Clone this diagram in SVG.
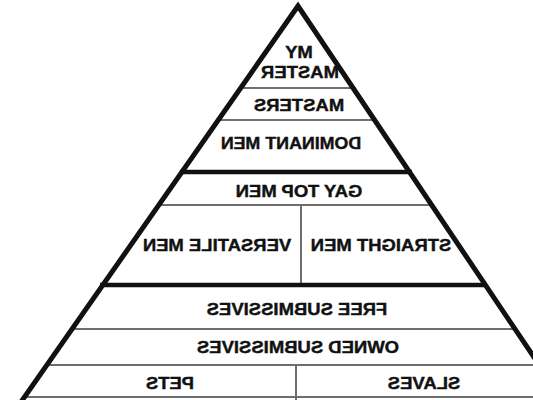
<svg xmlns="http://www.w3.org/2000/svg" width="533" height="400" viewBox="0 0 533 400">
<style>
.t{font-family:"Liberation Sans",Arial,sans-serif;font-weight:bold;font-size:16.5px;fill:#111;stroke:#111;stroke-width:0.4;text-anchor:middle}
.thin{stroke:#6e6e6e;stroke-width:2;fill:none}
.thick{stroke:#111;stroke-width:4.5;fill:none}
.edge{stroke:#111;stroke-width:5;fill:none;stroke-linejoin:miter}
</style>
<rect width="533" height="400" fill="#fff"/>
<g id="dividers">
<line class="thin" x1="238" y1="88" x2="356" y2="88"/>
<line class="thin" x1="216" y1="120" x2="377" y2="120"/>
<line class="thick" x1="180" y1="172" x2="412" y2="172"/>
<line class="thin" x1="157" y1="205" x2="434" y2="205"/>
<line class="thin" x1="301" y1="205" x2="301" y2="285"/>
<line class="thick" x1="100" y1="285" x2="487" y2="285"/>
<line class="thin" x1="70" y1="329" x2="517" y2="329"/>
<line class="thin" x1="45" y1="365" x2="541" y2="365"/>
<line class="thin" x1="296" y1="365" x2="296" y2="400"/>
<line class="thin" x1="22" y1="397" x2="562" y2="397"/>
</g>
<g id="pyramid">
<polyline class="edge" points="21,402 298,6 564,402"/>
</g>
<g id="my-master">
<text class="t" transform="translate(299,58) scale(-1.12,1)">MY</text>
<text class="t" transform="translate(300,78) scale(-1.12,1)">MASTER</text>
</g>
<g id="masters"><text class="t" transform="translate(299,111) scale(-1.12,1)">MASTERS</text></g>
<g id="dominant-men"><text class="t" transform="translate(291,149) scale(-1.08,1)">DOMINANT MEN</text></g>
<g id="gay-top-men"><text class="t" transform="translate(299,197) scale(-1.12,1)">GAY TOP MEN</text></g>
<g id="versatile-men"><text class="t" transform="translate(217,251) scale(-1.12,1)">VERSATILE MEN</text></g>
<g id="straight-men"><text class="t" transform="translate(381,251) scale(-1.12,1)">STRAIGHT MEN</text></g>
<g id="free-submissives"><text class="t" transform="translate(297,315) scale(-1.12,1)">FREE SUBMISSIVES</text></g>
<g id="owned-submissives"><text class="t" transform="translate(298,353) scale(-1.12,1)">OWNED SUBMISSIVES</text></g>
<g id="pets"><text class="t" transform="translate(170,389) scale(-1.12,1)">PETS</text></g>
<g id="slaves"><text class="t" transform="translate(424,389) scale(-1.12,1)">SLAVES</text></g>
</svg>
